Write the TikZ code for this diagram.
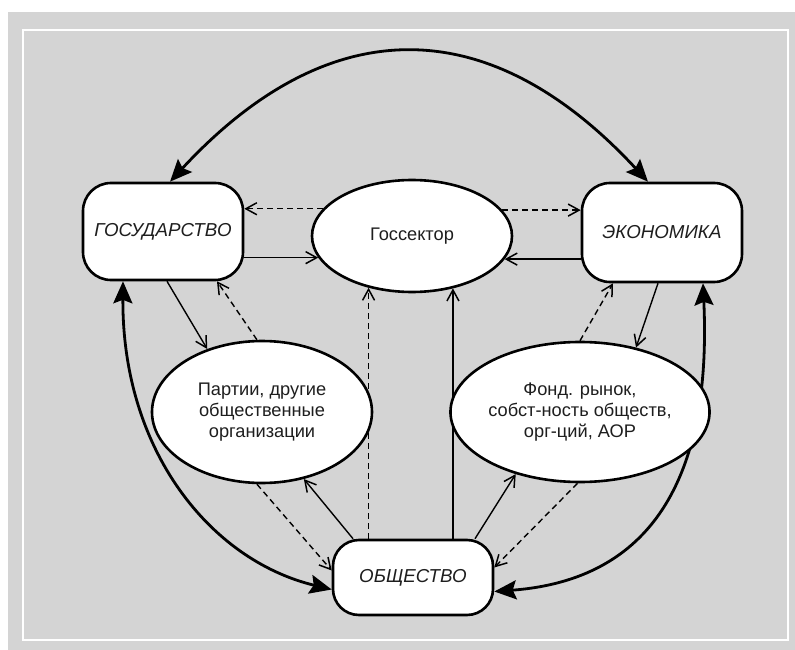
\documentclass[tikz,border=0pt]{standalone}
\usepackage{fontspec}
\setmainfont{Liberation Sans}
\usetikzlibrary{arrows.meta,shapes.geometric,backgrounds,calc}
\definecolor{bggray}{RGB}{212,212,212}
\definecolor{txt}{RGB}{30,30,30}
\begin{document}
\begin{tikzpicture}[x=1bp,y=-1bp,
  box/.style={draw, line width=2.6bp, fill=white, rounded corners=28bp, minimum width=160bp, inner sep=0pt, font=\fontsize{18.8}{22}\selectfont\itshape, text=txt},
  oval/.style={draw, ellipse, line width=2.6bp, fill=white, inner sep=0pt, align=center, font=\fontsize{18.3}{22.5}\selectfont, text=txt},
  sarr/.style={line width=1.4bp, -{Straight Barb[length=11bp,width=12bp,line width=1.5bp]}},
  dsh/.style={sarr, dash pattern=on 6bp off 4bp},
  bigarr/.style={line width=2.8bp, {Stealth[length=22bp,width=19bp,inset=3.5bp]}-{Stealth[length=22bp,width=19bp,inset=3.5bp]}}]
\useasboundingbox (0,0) rectangle (795,650);

\node[box, minimum height=97bp] (gos) at (163,231.5) {ГОСУДАРСТВО};
\node[box, minimum height=99bp] (eko) at (662,232.5) {ЭКОНОМИКА};
\node[box, minimum height=75bp, rounded corners=26bp] (obs) at (413,577.5) {\raisebox{-7bp}{ОБЩЕСТВО}};
\node[oval, minimum width=200bp, minimum height=112bp] (goss) at (412,236) {Госсектор};
\node[oval, minimum width=220bp, minimum height=142bp] (part) at (262,412) {\raisebox{-6bp}{\begin{tabular}{@{}c@{}}Партии, другие\\[-1bp]общественные\\[-1bp]организации\end{tabular}}};
\node[oval, minimum width=256bp, minimum height=140bp] (fond) at (580,412) {\raisebox{-4bp}{\begin{tabular}{@{}c@{}}Фонд. рынок,\\[-1bp]собст-ность обществ,\\[-1bp]орг-ций, АОР\end{tabular}}};

\begin{scope}[on background layer]
  \fill[white] (0,0) rectangle (795,650);
  \fill[bggray] (8,12) rectangle (795,650);
  \draw[white, line width=1.5bp] (23,30) rectangle (788,640);

  % Gossektor links
  \draw[dsh] (goss.163.7) -- (goss.163.7 -| gos.east);
  \draw[sarr] (goss.193.4 -| gos.east) -- (goss.193.4);
  \draw[dsh] (goss.16.6) -- (goss.16.6 -| eko.west);
  \draw[sarr] (goss.-14.9 -| eko.west) -- (goss.-14.9);

  % State / parties
  \draw[sarr] ([xshift=4bp]gos.south) -- (part.131);
  \draw[dsh] (part.94) -- ([xshift=54bp]gos.south);

  % Society / Gossektor
  \draw[dsh] (goss.230.4 |- obs.north) -- (goss.230.4);
  \draw[sarr] (goss.-52.1 |- obs.north) -- (goss.-52.1);

  % Society / parties
  \draw[sarr] ([xshift=-60bp]obs.north) -- (part.-58.8);
  \draw[dsh] (part.-94) -- ([yshift=7bp]obs.west);

  % Society / fond
  \draw[sarr] ([xshift=62bp]obs.north) -- (fond.224);
  \draw[dsh] (fond.-92) -- ([yshift=10bp]obs.east);

  % Economy / fond
  \draw[sarr] ([xshift=-4bp]eko.south) -- (fond.49);
  \draw[dsh] (fond.90) -- ([xshift=-49bp]eko.south);

  % big arrows
  \draw[bigarr] ([xshift=7bp]gos.north) .. controls (329,10) and (489,10) .. ([xshift=-14bp]eko.north);
  \draw[bigarr] ([xshift=-40bp]gos.south) .. controls (122,450) and (210,560) .. ([yshift=-12bp]obs.west);
  \draw[bigarr] ([xshift=41bp]eko.south) .. controls (712,480) and (650,580) .. ([yshift=-14bp]obs.east);
\end{scope}
\end{tikzpicture}
\end{document}
